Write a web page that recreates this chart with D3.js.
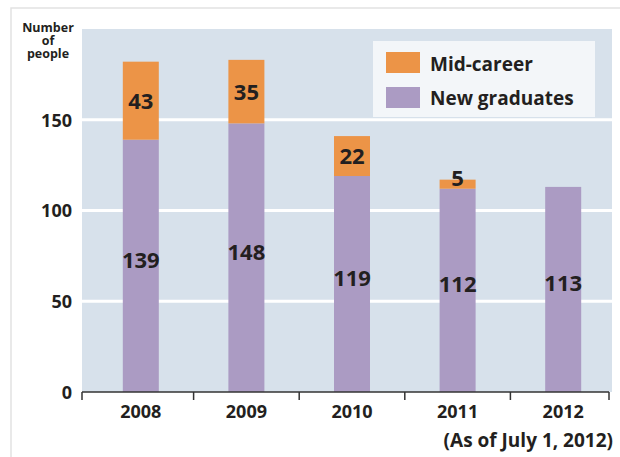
<!DOCTYPE html>
<html><head><meta charset="utf-8">
<script src="https://cdn.jsdelivr.net/npm/d3@7"></script>
<style>
html,body{margin:0;padding:0;background:#fff;}
svg text{font-family:"Open Sans","DejaVu Sans",sans-serif;fill:#231f20;}
</style></head>
<body><svg id="c" width="620" height="457"></svg>
<script>
const years = ["2008","2009","2010","2011","2012"];
const newGraduates = [139,148,119,112,113];
const midCareer = [43,35,22,5,null];
const yTicks = [0,50,100,150];
const seriesNames = ["Mid-career","New graduates"];
const colors = {mid:"#ec9447", grad:"#ab9bc3"};

const svg = d3.select("#c");
// outer frame
svg.append("path").attr("d","M11,457V8H620").attr("fill","none").attr("stroke","#e2e2e2").attr("stroke-width",1.5);

const plot = {l:82, r:612, t:29, b:392};
svg.append("rect").attr("x",plot.l).attr("y",plot.t).attr("width",plot.r-plot.l).attr("height",plot.b-plot.t).attr("fill","#d7e1eb");

const y = d3.scaleLinear().domain([0,200]).range([plot.b, plot.t]);
const x = d3.scaleBand().domain(years).range([88,616]).paddingInner(0).paddingOuter(0);
const bw = 36;

// gridlines
svg.selectAll("line.grid").data(yTicks.filter(d=>d>0)).join("line")
  .attr("x1",plot.l).attr("x2",plot.r).attr("y1",d=>y(d)).attr("y2",d=>y(d))
  .attr("stroke","#fff").attr("stroke-width",3);

// y axis labels
const yAxis = d3.axisLeft(y).tickValues(yTicks).tickSize(0).tickPadding(10);
const gy = svg.append("g").attr("transform",`translate(${plot.l},0)`).call(yAxis);
gy.select(".domain").remove();
gy.selectAll("text").attr("font-size",18).attr("font-weight",700).attr("fill","#231f20").attr("font-family","Open Sans").attr("dy","0.36em");

const data = years.map((yr,i)=>({yr, grad:newGraduates[i], mid:midCareer[i]}));

// bars
const g = svg.append("g");
g.selectAll("rect.grad").data(data).join("rect")
  .attr("x",d=>x(d.yr)+x.bandwidth()/2-bw/2).attr("width",bw)
  .attr("y",d=>y(d.grad)).attr("height",d=>y(0)-y(d.grad)).attr("fill",colors.grad);
g.selectAll("rect.mid").data(data.filter(d=>d.mid!=null)).join("rect")
  .attr("x",d=>x(d.yr)+x.bandwidth()/2-bw/2).attr("width",bw)
  .attr("y",d=>y(d.grad+d.mid)).attr("height",d=>y(d.grad)-y(d.grad+d.mid)).attr("fill",colors.mid);

// labels
g.selectAll("text.gl").data(data).join("text")
  .attr("x",d=>x(d.yr)+x.bandwidth()/2).attr("y",d=>(y(0)+y(d.grad))/2 - 6)
  .attr("dy","0.36em").attr("text-anchor","middle").attr("font-size",22).attr("font-weight",700)
  .text(d=>d.grad);
g.selectAll("text.ml").data(data.filter(d=>d.mid!=null)).join("text")
  .attr("x",d=>x(d.yr)+x.bandwidth()/2)
  .attr("y",d=>{const top=y(d.grad+d.mid), bot=y(d.grad); return (bot-top)<20 ? top-2 : (top+bot)/2;})
  .attr("dy","0.36em").attr("text-anchor","middle").attr("font-size",22).attr("font-weight",700)
  .text(d=>d.mid);

// x axis
svg.append("line").attr("x1",plot.l).attr("x2",609).attr("y1",plot.b).attr("y2",plot.b).attr("stroke","#333").attr("stroke-width",1.5);
const tickXs = [plot.l, ...years.slice(1).map(d=>x(d)), 609];
svg.selectAll("line.xt").data(tickXs).join("line")
  .attr("x1",d=>d).attr("x2",d=>d).attr("y1",plot.b).attr("y2",plot.b+8).attr("stroke","#333").attr("stroke-width",1.5);
const xAxis = d3.axisBottom(x).tickSize(0).tickPadding(0);
const gx = svg.append("g").attr("transform",`translate(0,${plot.b})`).call(xAxis);
gx.select(".domain").remove();
gx.selectAll("text").attr("font-size",18).attr("font-weight",700).attr("fill","#231f20").attr("font-family","Open Sans").attr("dy","1.45em");

svg.append("text").attr("x",613).attr("y",447).attr("text-anchor","end").attr("font-size",19).attr("font-weight",700).text("(As of July 1, 2012)");

// y title
const yt = svg.append("text").attr("text-anchor","middle").attr("font-size",12.5).attr("font-weight",700).attr("fill","#333");
["Number","of","people"].forEach((t,i)=>yt.append("tspan").attr("x",48).attr("y",32+i*13).text(t));

// legend
const lg = svg.append("g");
lg.append("rect").attr("x",373).attr("y",41).attr("width",222).attr("height",76).attr("fill","#f3f6f9");
[colors.mid, colors.grad].forEach((c,i)=>{
  lg.append("rect").attr("x",386).attr("y",52+i*35).attr("width",34).attr("height",21).attr("fill",c);
  lg.append("text").attr("x",430).attr("y",71+i*34).attr("font-size",19).attr("font-weight",700).text(seriesNames[i]);
});
</script></body></html>
